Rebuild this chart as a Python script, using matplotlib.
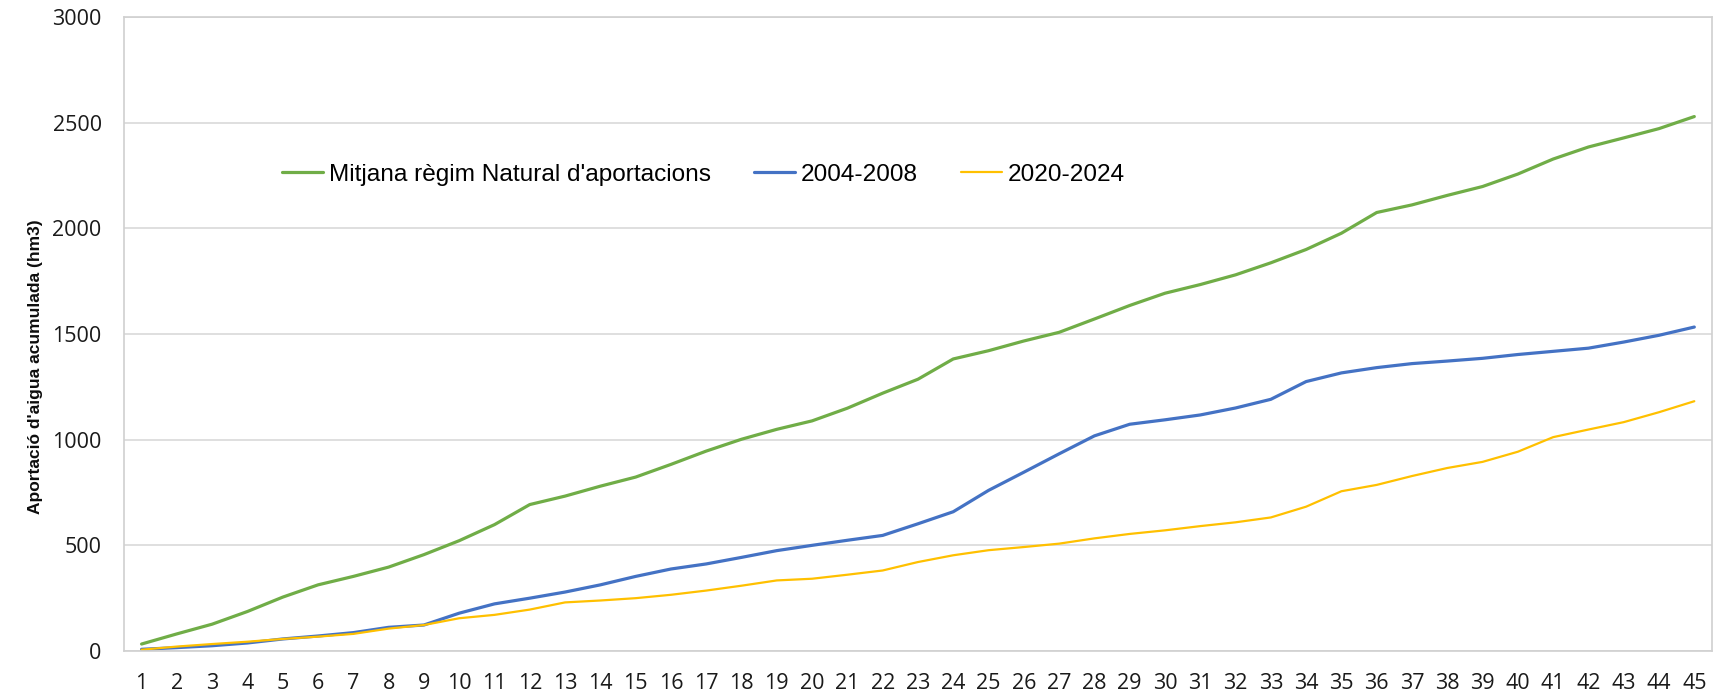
import matplotlib
matplotlib.use('Agg')
import matplotlib.pyplot as plt
import numpy as np

# cumulative water inflow per week (hm3)
weeks = list(range(1, 46))
mitjana = [33, 81, 127, 187, 255, 313, 353, 397, 456, 522, 598, 693,
           733, 780, 823, 883, 946, 1002, 1049, 1089, 1149, 1220, 1286, 1382,
           1421, 1467, 1508, 1571, 1635, 1693, 1734, 1780, 1837, 1900, 1977,
           2075, 2111, 2156, 2198, 2257, 2328, 2385, 2428, 2472, 2529]
s2004_2008 = [8, 16, 25, 38, 57, 71, 87, 112, 123, 179, 223, 250,
              279, 313, 353, 388, 412, 443, 475, 500, 524, 547, 602, 659,
              760, 846, 933, 1018, 1073, 1094, 1117, 1150, 1191, 1275, 1316,
              1341, 1360, 1372, 1385, 1403, 1418, 1433, 1462, 1494, 1533]
s2020_2024 = [6, 21, 33, 44, 57, 68, 81, 106, 123, 155, 171, 196,
              230, 239, 250, 266, 286, 309, 334, 342, 361, 381, 421, 453,
              477, 492, 508, 533, 554, 571, 591, 609, 632, 683, 756,
              786, 828, 866, 895, 943, 1012, 1048, 1083, 1130, 1182]
series_labels = ["Mitjana règim Natural d'aportacions", '2004-2008', '2020-2024']

narrow = ['Liberation Sans Narrow', 'Liberation Sans', 'DejaVu Sans']
plt.rcParams['font.family'] = ['Open Sans', 'DejaVu Sans']

fig = plt.figure(figsize=(17.19, 6.95), dpi=100)
ax = fig.add_axes([0.0721, 0.0633, 0.9238, 0.9122])

ax.plot(weeks, mitjana, color='#70AD47', lw=2.3, label=series_labels[0], solid_capstyle='round')
ax.plot(weeks, s2004_2008, color='#4472C4', lw=2.3, label=series_labels[1], solid_capstyle='round')
ax.plot(weeks, s2020_2024, color='#FFC000', lw=1.6, label=series_labels[2], solid_capstyle='round')

ax.set_xlim(0.5, 45.5)
ax.set_ylim(0, 3000)
ax.set_yticks(np.arange(0, 3001, 500))
ax.set_xticks(weeks)
ax.set_xticklabels([str(w) for w in weeks])
ax.grid(axis='y', color='#D9D9D9', lw=1.2)
ax.set_axisbelow(True)
for sp in ax.spines.values():
    sp.set_color('#D0D0D0')
    sp.set_linewidth(1.2)
ax.tick_params(length=0, labelsize=15.5, colors='#1a1a1a')
ax.tick_params(axis='x', pad=16)
ax.tick_params(axis='y', pad=16)

ax.set_ylabel("Aportació d'aigua acumulada (hm3)", fontsize=12.5, fontweight='bold',
              color='#0d0d0d', family=narrow)
ax.yaxis.set_label_coords(-0.051, 0.448)

leg = ax.legend(loc='center left', bbox_to_anchor=(0.0995, 0.751), ncol=3, frameon=False,
                borderpad=0, borderaxespad=0,
                handlelength=1.68, handletextpad=0.25, columnspacing=1.75,
                prop={'family': narrow, 'size': 17.6})

fig.savefig('out.png', dpi=100)
